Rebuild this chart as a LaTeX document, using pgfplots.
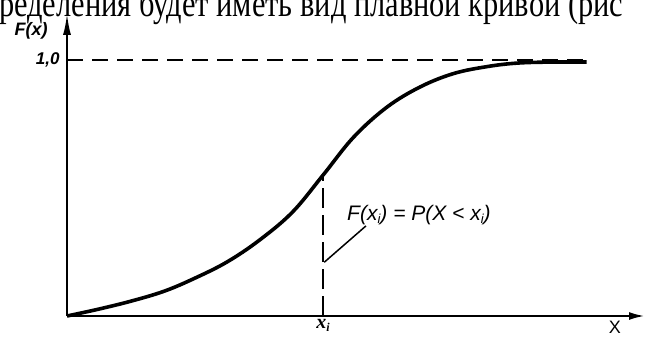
\documentclass[border=0pt]{standalone}
\usepackage{pgfplots}
\pgfplotsset{compat=1.18}
\usepackage{fontspec}
\setmainfont{Liberation Serif}
\newfontfamily\lbl{Liberation Sans}
\usetikzlibrary{arrows.meta}

\begin{document}
\begin{tikzpicture}
  \useasboundingbox (0pt,0pt) rectangle (647pt,340pt);
  \clip (0pt,0pt) rectangle (647pt,340pt);
  % running text line above the figure
  \node[anchor=base west, inner sep=0pt] at (-1pt,323.5pt)
    {\scalebox{0.8}[1]{\fontsize{38}{42}\selectfont ределения будет иметь вид плавной кривой (рис}};
  \begin{axis}[
    at={(67pt,24pt)}, anchor=south west,
    scale only axis, width=578pt, height=303pt,
    xmin=0, xmax=22.58, ymin=0, ymax=1.1836,
    axis x line=bottom, axis y line=left,
    x axis line style={line width=2.4pt, -{Latex[length=16pt,width=8pt]}},
    y axis line style={line width=2.4pt, -{Latex[length=22pt,width=8pt]}},
    xtick={10}, xticklabels={{x\raisebox{-0.35ex}{\fontsize{12}{12}\selectfont i}}},
    ytick={1}, yticklabels={1{,}0},
    major tick length=0pt,
    xticklabel style={font=\fontsize{20}{22}\selectfont\bfseries\itshape, inner sep=1pt, yshift=-2pt},
    yticklabel style={font=\lbl\itshape\bfseries\fontsize{17}{20}\selectfont, xshift=-4pt},
    xlabel={X},
    every axis x label/.style={at={(axis cs:21.4,0)}, anchor=north, yshift=-2pt,
      font=\lbl\fontsize{18}{20}\selectfont},
    ylabel={F(x)},
    every axis y label/.style={at={(axis cs:-1.4,1.115)}, anchor=center,
      font=\lbl\itshape\bfseries\fontsize{18}{21}\selectfont},
    clip=false,
  ]
    % level F = 1
    \addplot[black, line width=2.2pt, dash pattern=on 16pt off 9pt]
      coordinates {(0,1) (20.3,1)};
    % value at x_i
    \addplot[black, line width=2.2pt, dash pattern=on 20pt off 7pt]
      coordinates {(10,0) (10,0.55)};
    % distribution function
    \addplot[black, line width=3.6pt, smooth, tension=0.6] coordinates {
      (0,0) (1.2,0.026) (2.5,0.058) (3.8,0.097) (5.0,0.148) (6.25,0.211)
      (7.5,0.295) (8.8,0.405) (10,0.55) (11.2,0.699) (12.5,0.816)
      (13.8,0.895) (15.1,0.947) (16.4,0.974) (17.6,0.988) (19,0.992) (20.3,0.992)
    };
    % leader to the annotation
    \addplot[black, line width=1.5pt] coordinates {(10.05,0.21) (11.68,0.352)};
    \node[anchor=center, inner sep=0pt] at (axis cs:13.75,0.395)
      {\lbl\itshape\fontsize{21}{24}\selectfont F(x\raisebox{-0.3ex}{\fontsize{13}{13}\selectfont i}) = P(X < x\raisebox{-0.3ex}{\fontsize{13}{13}\selectfont i})};
  \end{axis}
\end{tikzpicture}
\end{document}
